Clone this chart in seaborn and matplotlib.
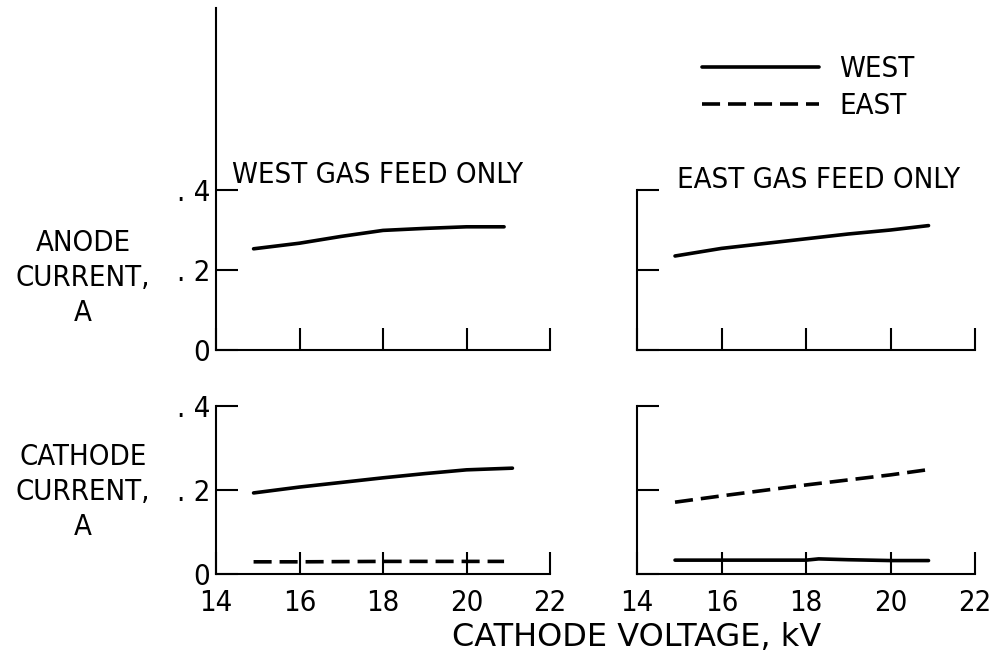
import pandas as pd
import matplotlib.pyplot as plt
import seaborn as sns
from matplotlib.lines import Line2D

# Данные (напряжение катода, кВ -> ток, А)
# WEST GAS FEED ONLY, ток анода
wf_anode_west_kv = [14.9, 16, 17, 18, 19, 20, 20.9]
wf_anode_west_a = [0.253, 0.267, 0.284, 0.299, 0.304, 0.308, 0.308]

# EAST GAS FEED ONLY, ток анода
ef_anode_west_kv = [14.9, 16, 17, 18, 19, 20, 20.9]
ef_anode_west_a = [0.235, 0.254, 0.266, 0.278, 0.290, 0.300, 0.311]

# WEST GAS FEED ONLY, ток катода
wf_cath_west_kv = [14.9, 16, 17, 18, 19, 20, 21.1]
wf_cath_west_a = [0.193, 0.207, 0.218, 0.229, 0.239, 0.248, 0.252]
wf_cath_east_kv = [14.9, 16, 18, 20, 20.9]
wf_cath_east_a = [0.029, 0.029, 0.030, 0.030, 0.030]

# EAST GAS FEED ONLY, ток катода
ef_cath_east_kv = [14.9, 16, 17, 18, 19, 20, 21.0]
ef_cath_east_a = [0.171, 0.186, 0.199, 0.212, 0.224, 0.236, 0.250]
ef_cath_west_kv = [14.9, 16, 17, 18, 18.3, 19, 20, 20.9]
ef_cath_west_a = [0.033, 0.033, 0.033, 0.033, 0.036, 0.034, 0.032, 0.032]

x_ticks = [14, 16, 18, 20, 22]
y_ticks = [0, 0.2, 0.4]
y_tick_labels = ["0", ". 2", ". 4"]

# Конфигурация
W, H = 993, 657
LW = 2.6
DASH = (5, 2.2)
FS = 21

sns.set_theme(style="ticks")
plt.rcParams["font.family"] = ["DejaVu Sans"]
plt.rcParams["font.stretch"] = "condensed"
plt.rcParams["text.color"] = "black"
plt.rcParams["xtick.color"] = "black"
plt.rcParams["ytick.color"] = "black"


def series_df(kv, amps, side):
    return pd.DataFrame({"kV": kv, "A": amps, "side": side})


def px_axes(fig, left, right, bottom, top):
    """Оси по пиксельным координатам картинки (y сверху вниз)."""
    return fig.add_axes([left / W, 1 - bottom / H, (right - left) / W, (bottom - top) / H])


def draw_panel(ax, frames, ylim_top, x_labels, y_labels):
    df = pd.concat(frames, ignore_index=True)
    sns.lineplot(data=df, x="kV", y="A", hue="side", style="side",
                 palette={"WEST": "black", "EAST": "black"},
                 dashes={"WEST": "", "EAST": DASH},
                 linewidth=LW, legend=False, ax=ax)
    ax.set_xlim(14, 22)
    ax.set_ylim(0, ylim_top)
    sns.despine(ax=ax)
    for s in ["left", "bottom"]:
        ax.spines[s].set_linewidth(1.5)
        ax.spines[s].set_color("black")
    ax.set_xticks(x_ticks)
    ax.set_yticks(y_ticks)
    ax.tick_params(direction="in", length=16, width=1.5)
    ax.tick_params(axis="x", pad=11, labelsize=FS, labelbottom=x_labels)
    ax.tick_params(axis="y", pad=4, labelsize=FS, labelleft=y_labels)
    if y_labels:
        ax.set_yticklabels(y_tick_labels)
    ax.set_xlabel("")
    ax.set_ylabel("")
    ax.patch.set_alpha(0)


fig = plt.figure(figsize=(W / 100, H / 100), dpi=100)

ax_tl = px_axes(fig, 216, 550, 350, 8)
ax_tr = px_axes(fig, 637, 975, 350, 190)
ax_bl = px_axes(fig, 216, 550, 574, 406)
ax_br = px_axes(fig, 637, 975, 574, 406)

draw_panel(ax_tl, [series_df(wf_anode_west_kv, wf_anode_west_a, "WEST")],
           0.4 * (350 - 8) / 160, False, True)
draw_panel(ax_tr, [series_df(ef_anode_west_kv, ef_anode_west_a, "WEST")],
           0.4, False, False)
draw_panel(ax_bl, [series_df(wf_cath_west_kv, wf_cath_west_a, "WEST"),
                   series_df(wf_cath_east_kv, wf_cath_east_a, "EAST")],
           0.4, True, True)
draw_panel(ax_br, [series_df(ef_cath_west_kv, ef_cath_west_a, "WEST"),
                   series_df(ef_cath_east_kv, ef_cath_east_a, "EAST")],
           0.4, True, False)

# Заголовки панелей
fig.text(232 / W, 1 - 183 / H, "WEST GAS FEED ONLY", fontsize=FS, va="baseline", ha="left")
fig.text(677 / W, 1 - 188 / H, "EAST GAS FEED ONLY", fontsize=FS, va="baseline", ha="left")

# Подписи осей
fig.text(83 / W, 1 - 278 / H, "ANODE\nCURRENT,\nA", fontsize=FS, ha="center",
         va="center", multialignment="center", linespacing=1.3)
fig.text(83 / W, 1 - 492 / H, "CATHODE\nCURRENT,\nA", fontsize=FS, ha="center",
         va="center", multialignment="center", linespacing=1.3)
fig.text(637 / W, 1 - 637 / H, "CATHODE VOLTAGE, kV", fontsize=23, ha="center",
         va="center", fontstretch="normal")

# Легенда
handles = [Line2D([], [], color="black", lw=LW),
           Line2D([], [], color="black", lw=LW, dashes=DASH)]
fig.legend(handles=handles, labels=["WEST", "EAST"], loc="upper left",
           bbox_to_anchor=(702 / W, 1 - 55 / H), frameon=False, fontsize=FS,
           handlelength=4.0, handletextpad=0.7, labelspacing=0.3,
           borderpad=0, borderaxespad=0)

fig.savefig("out.png", dpi=100)
